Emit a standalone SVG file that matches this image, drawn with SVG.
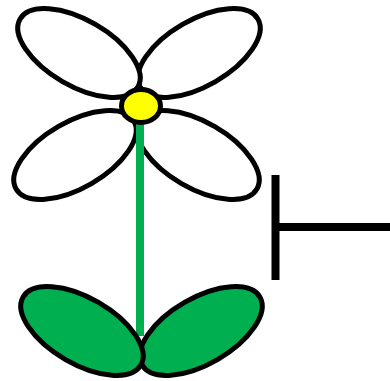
<svg xmlns="http://www.w3.org/2000/svg" width="390" height="381" viewBox="0 0 390 381">
  <style>
    .petal { fill: #ffffff; stroke: #000000; stroke-width: 5; }
    .leaf { fill: #00b050; stroke: #000000; stroke-width: 5; }
    .stem { stroke: #00b050; stroke-width: 8; fill: none; }
    .core { fill: #ffff00; stroke: #000000; stroke-width: 5; }
    .bar { stroke: #000000; stroke-width: 8; fill: none; }
  </style>
  <rect width="390" height="381" fill="#ffffff"/>

  <!-- flower head: four petals -->
  <g id="petal-bottom-right">
    <ellipse class="petal" cx="0" cy="0" rx="68" ry="33" transform="translate(198 155) rotate(30)"/>
  </g>
  <g id="petal-bottom-left">
    <ellipse class="petal" cx="0" cy="0" rx="68" ry="33" transform="translate(75 155) rotate(-30)"/>
  </g>
  <g id="petal-top-right">
    <ellipse class="petal" cx="0" cy="0" rx="68" ry="33" transform="translate(199 53) rotate(-30)"/>
  </g>
  <g id="petal-top-left">
    <ellipse class="petal" cx="0" cy="0" rx="68" ry="33" transform="translate(79 53) rotate(30)"/>
  </g>

  <!-- stem -->
  <g id="stem">
    <line class="stem" x1="140" y1="106" x2="140" y2="336"/>
  </g>

  <!-- leaves -->
  <g id="leaf-right">
    <ellipse class="leaf" cx="0" cy="0" rx="68" ry="33" transform="translate(201 331) rotate(-30)"/>
  </g>
  <g id="leaf-left">
    <ellipse class="leaf" cx="0" cy="0" rx="68" ry="33" transform="translate(82 331) rotate(30)"/>
  </g>

  <!-- flower centre -->
  <g id="centre">
    <ellipse class="core" cx="141" cy="106" rx="19.5" ry="16.5"/>
  </g>

  <!-- inhibition bar -->
  <g id="connectors">
    <line class="bar" x1="275.5" y1="175" x2="275.5" y2="280"/>
    <line class="bar" x1="275.5" y1="227" x2="390" y2="227"/>
  </g>
</svg>
